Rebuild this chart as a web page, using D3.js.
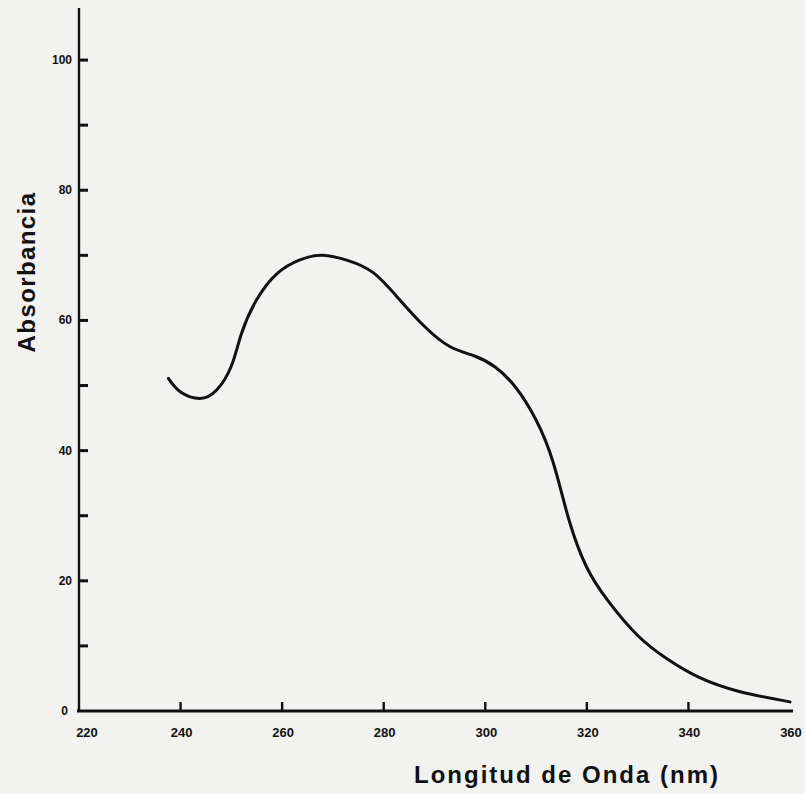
<!DOCTYPE html>
<html><head><meta charset="utf-8">
<script src="https://cdn.jsdelivr.net/npm/d3@7"></script>
<style>html,body{margin:0;padding:0;background:#f2f2f0;}svg{display:block;}</style>
</head><body>
<svg id="c" width="805" height="794"></svg>
<script>
const wavelength = [237.6, 240, 243.8, 247.1, 250, 252, 255, 259, 263.5, 268, 273, 278, 283, 288, 293, 298, 302, 306, 310, 313.4, 316.5, 319.9, 324, 330, 336, 342, 350, 360];
const absorbance = [51.1, 49.0, 48.0, 49.3, 53.0, 58.0, 63.2, 67.2, 69.3, 70.0, 69.2, 67.3, 63.3, 59.1, 56.0, 54.5, 52.8, 49.7, 44.7, 38.1, 29.3, 22.2, 17.1, 11.6, 7.9, 5.2, 3.0, 1.4];
const xTicks = [220, 240, 260, 280, 300, 320, 340, 360];
const yTicks = [0, 10, 20, 30, 40, 50, 60, 70, 80, 90, 100];
const yLabels = [0, 20, 40, 60, 80, 100];
const xTitle = "Longitud de Onda (nm)";
const yTitle = "Absorbancia";

const svg = d3.select("#c");
const x = d3.scaleLinear().domain([220, 360]).range([79, 790]);
const y = d3.scaleLinear().domain([0, 108]).range([711, 8]);
const font = "'Liberation Sans', Arial, sans-serif";

// axis lines
svg.append("line").attr("x1", x(220)).attr("x2", x(220)).attr("y1", y(0)).attr("y2", y(108))
  .attr("stroke", "#111").attr("stroke-width", 2.4);
svg.append("line").attr("x1", x(220) - 2).attr("x2", x(360) + 3).attr("y1", y(0)).attr("y2", y(0))
  .attr("stroke", "#111").attr("stroke-width", 3);

// y ticks (inward)
svg.append("g").selectAll("line").data(yTicks.filter(d => d > 0)).join("line")
  .attr("x1", x(220)).attr("x2", x(220) + 9).attr("y1", d => y(d)).attr("y2", d => y(d))
  .attr("stroke", "#111").attr("stroke-width", 3);
svg.append("g").selectAll("text").data(yLabels).join("text")
  .attr("x", d => d === 0 ? x(220) - 11 : x(220) - 7).attr("y", d => y(d) + 4)
  .attr("text-anchor", "end").attr("font-family", font).attr("font-weight", "bold")
  .attr("font-size", 12).attr("fill", "#111").text(d => d);

// x ticks (inward)
svg.append("g").selectAll("line").data(xTicks.filter(d => d > 220 && d < 360)).join("line")
  .attr("x1", d => x(d)).attr("x2", d => x(d)).attr("y1", y(0)).attr("y2", y(0) - 9)
  .attr("stroke", "#111").attr("stroke-width", 2.4);
svg.append("g").selectAll("text").data(xTicks).join("text")
  .attr("x", d => d === 220 ? x(d) + 8 : x(d) + 1).attr("y", 737)
  .attr("text-anchor", "middle").attr("font-family", font).attr("font-weight", "bold")
  .attr("font-size", 13).attr("fill", "#111").text(d => d);

// curve
const pts = wavelength.map((w, i) => [w, absorbance[i]]);
svg.append("path").datum(pts)
  .attr("d", d3.line().x(d => x(d[0])).y(d => y(d[1])).curve(d3.curveNatural))
  .attr("fill", "none").attr("stroke", "#111").attr("stroke-width", 3)
  .attr("stroke-linecap", "round");

// titles
svg.append("text").attr("x", 567).attr("y", 783).attr("text-anchor", "middle")
  .attr("font-family", font).attr("font-weight", "bold").attr("font-size", 24)
  .attr("letter-spacing", 2).attr("fill", "#111").text(xTitle);
svg.append("text").attr("transform", "translate(35,272) rotate(-90)").attr("text-anchor", "middle")
  .attr("font-family", font).attr("font-weight", "bold").attr("font-size", 24)
  .attr("letter-spacing", 1.4).attr("fill", "#111").text(yTitle);
</script>
</body></html>
